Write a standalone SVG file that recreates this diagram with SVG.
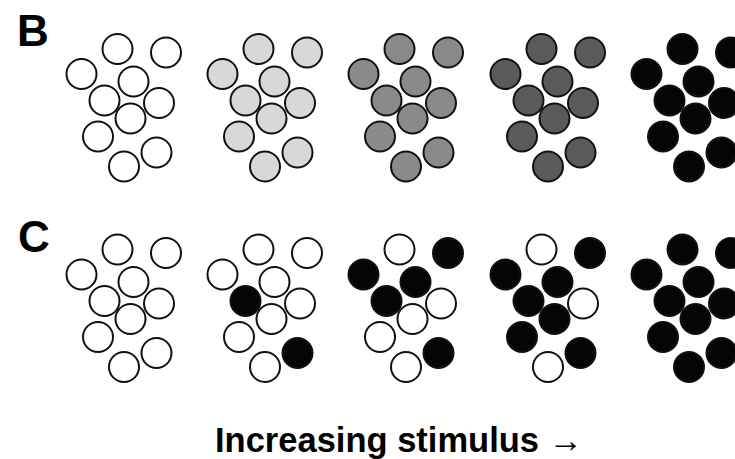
<svg xmlns="http://www.w3.org/2000/svg" width="735" height="459" viewBox="0 0 735 459">
<style>
  circle { stroke: #111; stroke-width: 2; }
  .w { fill: #ffffff; }
  .l { fill: #d8d8d8; }
  .m { fill: #8a8a8a; }
  .d { fill: #5a5a5a; }
  .k { fill: #050505; }
  .lbl { font-family: "Liberation Sans", Arial, sans-serif; font-weight: bold; fill: #000; }
</style>
<rect width="735" height="459" fill="#ffffff"/>
<text class="lbl" x="17" y="46" font-size="44">B</text>
<text class="lbl" x="18" y="252" font-size="44">C</text>

<!-- Row B -->
<g id="B1" transform="translate(0,0)">
  <circle class="w" cx="117.5" cy="49" r="15"/><circle class="w" cx="166" cy="52.5" r="15"/><circle class="w" cx="81.5" cy="74" r="15"/><circle class="w" cx="133.5" cy="81.5" r="15"/><circle class="w" cx="104.5" cy="100.5" r="15"/><circle class="w" cx="159" cy="103" r="15"/><circle class="w" cx="130.5" cy="118.5" r="15"/><circle class="w" cx="98" cy="136.5" r="15"/><circle class="w" cx="156.5" cy="152.5" r="15"/><circle class="w" cx="124" cy="166.5" r="15"/>
</g>
<g id="B2" transform="translate(141,0)">
  <circle class="l" cx="117.5" cy="49" r="15"/><circle class="l" cx="166" cy="52.5" r="15"/><circle class="l" cx="81.5" cy="74" r="15"/><circle class="l" cx="133.5" cy="81.5" r="15"/><circle class="l" cx="104.5" cy="100.5" r="15"/><circle class="l" cx="159" cy="103" r="15"/><circle class="l" cx="130.5" cy="118.5" r="15"/><circle class="l" cx="98" cy="136.5" r="15"/><circle class="l" cx="156.5" cy="152.5" r="15"/><circle class="l" cx="124" cy="166.5" r="15"/>
</g>
<g id="B3" transform="translate(282,0)">
  <circle class="m" cx="117.5" cy="49" r="15"/><circle class="m" cx="166" cy="52.5" r="15"/><circle class="m" cx="81.5" cy="74" r="15"/><circle class="m" cx="133.5" cy="81.5" r="15"/><circle class="m" cx="104.5" cy="100.5" r="15"/><circle class="m" cx="159" cy="103" r="15"/><circle class="m" cx="130.5" cy="118.5" r="15"/><circle class="m" cx="98" cy="136.5" r="15"/><circle class="m" cx="156.5" cy="152.5" r="15"/><circle class="m" cx="124" cy="166.5" r="15"/>
</g>
<g id="B4" transform="translate(424,0)">
  <circle class="d" cx="117.5" cy="49" r="15"/><circle class="d" cx="166" cy="52.5" r="15"/><circle class="d" cx="81.5" cy="74" r="15"/><circle class="d" cx="133.5" cy="81.5" r="15"/><circle class="d" cx="104.5" cy="100.5" r="15"/><circle class="d" cx="159" cy="103" r="15"/><circle class="d" cx="130.5" cy="118.5" r="15"/><circle class="d" cx="98" cy="136.5" r="15"/><circle class="d" cx="156.5" cy="152.5" r="15"/><circle class="d" cx="124" cy="166.5" r="15"/>
</g>
<g id="B5" transform="translate(565,0)">
  <circle class="k" cx="117.5" cy="49" r="15"/><circle class="k" cx="166" cy="52.5" r="15"/><circle class="k" cx="81.5" cy="74" r="15"/><circle class="k" cx="133.5" cy="81.5" r="15"/><circle class="k" cx="104.5" cy="100.5" r="15"/><circle class="k" cx="159" cy="103" r="15"/><circle class="k" cx="130.5" cy="118.5" r="15"/><circle class="k" cx="98" cy="136.5" r="15"/><circle class="k" cx="156.5" cy="152.5" r="15"/><circle class="k" cx="124" cy="166.5" r="15"/>
</g>

<!-- Row C -->
<g id="C1" transform="translate(0,200.5)">
  <circle class="w" cx="117.5" cy="49" r="15"/><circle class="w" cx="166" cy="52.5" r="15"/><circle class="w" cx="81.5" cy="74" r="15"/><circle class="w" cx="133.5" cy="81.5" r="15"/><circle class="w" cx="104.5" cy="100.5" r="15"/><circle class="w" cx="159" cy="103" r="15"/><circle class="w" cx="130.5" cy="118.5" r="15"/><circle class="w" cx="98" cy="136.5" r="15"/><circle class="w" cx="156.5" cy="152.5" r="15"/><circle class="w" cx="124" cy="166.5" r="15"/>
</g>
<g id="C2" transform="translate(141,200.5)">
  <circle class="w" cx="117.5" cy="49" r="15"/><circle class="w" cx="166" cy="52.5" r="15"/><circle class="w" cx="81.5" cy="74" r="15"/><circle class="w" cx="133.5" cy="81.5" r="15"/><circle class="k" cx="104.5" cy="100.5" r="15"/><circle class="w" cx="159" cy="103" r="15"/><circle class="w" cx="130.5" cy="118.5" r="15"/><circle class="w" cx="98" cy="136.5" r="15"/><circle class="k" cx="156.5" cy="152.5" r="15"/><circle class="w" cx="124" cy="166.5" r="15"/>
</g>
<g id="C3" transform="translate(282,200.5)">
  <circle class="w" cx="117.5" cy="49" r="15"/><circle class="k" cx="166" cy="52.5" r="15"/><circle class="k" cx="81.5" cy="74" r="15"/><circle class="k" cx="133.5" cy="81.5" r="15"/><circle class="k" cx="104.5" cy="100.5" r="15"/><circle class="w" cx="159" cy="103" r="15"/><circle class="w" cx="130.5" cy="118.5" r="15"/><circle class="w" cx="98" cy="136.5" r="15"/><circle class="k" cx="156.5" cy="152.5" r="15"/><circle class="w" cx="124" cy="166.5" r="15"/>
</g>
<g id="C4" transform="translate(424,200.5)">
  <circle class="w" cx="117.5" cy="49" r="15"/><circle class="k" cx="166" cy="52.5" r="15"/><circle class="k" cx="81.5" cy="74" r="15"/><circle class="k" cx="133.5" cy="81.5" r="15"/><circle class="k" cx="104.5" cy="100.5" r="15"/><circle class="w" cx="159" cy="103" r="15"/><circle class="k" cx="130.5" cy="118.5" r="15"/><circle class="k" cx="98" cy="136.5" r="15"/><circle class="k" cx="156.5" cy="152.5" r="15"/><circle class="w" cx="124" cy="166.5" r="15"/>
</g>
<g id="C5" transform="translate(565,200.5)">
  <circle class="k" cx="117.5" cy="49" r="15"/><circle class="k" cx="166" cy="52.5" r="15"/><circle class="k" cx="81.5" cy="74" r="15"/><circle class="k" cx="133.5" cy="81.5" r="15"/><circle class="k" cx="104.5" cy="100.5" r="15"/><circle class="k" cx="159" cy="103" r="15"/><circle class="k" cx="130.5" cy="118.5" r="15"/><circle class="k" cx="98" cy="136.5" r="15"/><circle class="k" cx="156.5" cy="152.5" r="15"/><circle class="k" cx="124" cy="166.5" r="15"/>
</g>

<g id="connectors"></g>

<text class="lbl" x="215" y="452" font-size="34.5">Increasing stimulus →</text>
</svg>
